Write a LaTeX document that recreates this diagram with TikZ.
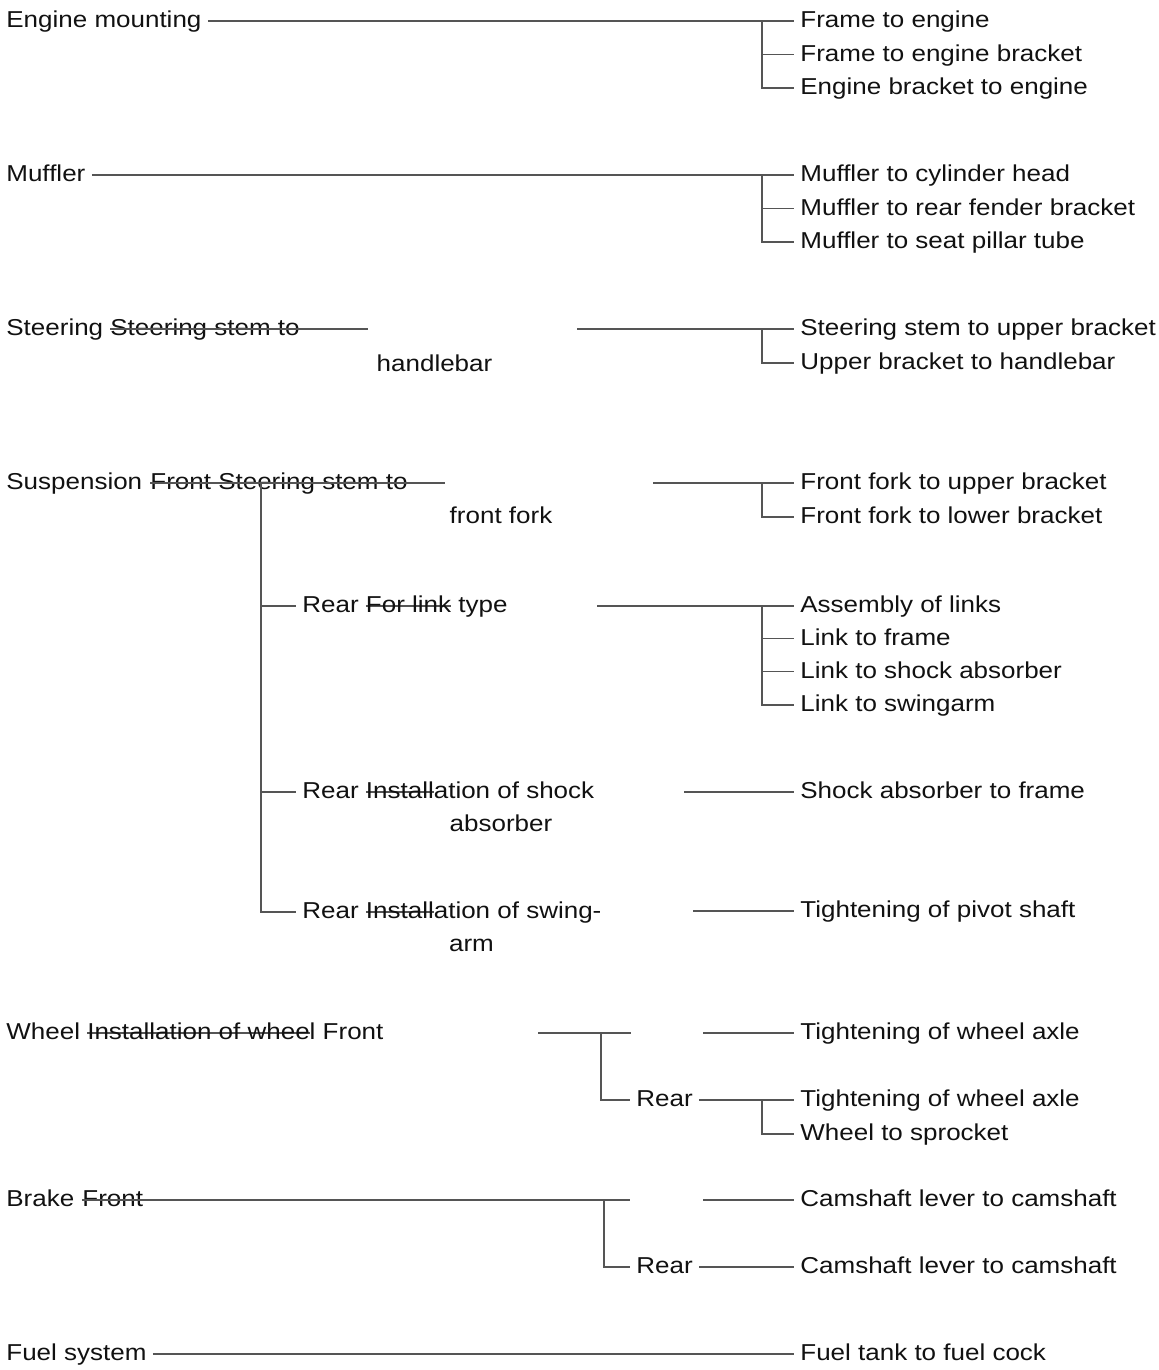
\documentclass[tikz,border=0pt]{standalone}
\usepackage{fontspec}
\setmainfont{Liberation Sans}[FakeStretch=1.13]
\usepackage{xcolor}
\usepackage{tikz}
\definecolor{lnGray}{HTML}{555555}
\definecolor{txInk}{HTML}{111111}
% struck-through text, rule at the height of the connectors
\newcommand{\strk}[1]{\setbox0\hbox{#1}\rlap{\textcolor{lnGray}{\rule[\dimexpr0.3em-0.4pt\relax]{\wd0}{0.8pt}}}\box0\relax}
\tikzset{
  part/.style={anchor=west, inner xsep=3pt, inner ysep=0pt, text height=9.5pt, text depth=2.7pt,
    font=\fontsize{11.5}{14}\selectfont, text=txInk},
  wrap/.style={part, anchor=center},
  conn/.style={draw=lnGray, line width=0.8pt},
}
\begin{document}
\begin{tikzpicture}[x=0.5pt, y=-0.5pt]
  \useasboundingbox (0,0) rectangle (1159,1370);
  % engine mounting
  \node[part] (eng) at (0,21) {Engine mounting};
  \node[part] (engA) at (794,21) {Frame to engine};
  \node[part] (engB) at (794,54.5) {Frame to engine bracket};
  \node[part] (engC) at (794,88) {Engine bracket to engine};
  \coordinate (engJ) at (762,21);
  \draw[conn] (eng.east) -- (engA.west);
  \draw[conn] (engJ) |- (engB.west);
  \draw[conn] (engJ) |- (engC.west);
  % muffler
  \node[part] (muf) at (0,175) {Muffler};
  \node[part] (mufA) at (794,175) {Muffler to cylinder head};
  \node[part] (mufB) at (794,208.5) {Muffler to rear fender bracket};
  \node[part] (mufC) at (794,242) {Muffler to seat pillar tube};
  \coordinate (mufJ) at (762,175);
  \draw[conn] (muf.east) -- (mufA.west);
  \draw[conn] (mufJ) |- (mufB.west);
  \draw[conn] (mufJ) |- (mufC.west);
  % steering
  \node[part] (ste) at (0,329) {Steering};
  \node[part] (steM) at (104,329) {Steering stem to};
  \node[wrap] (steM2) at (434.5,365) {handlebar};
  \coordinate (steE) at (368,329);
  \coordinate (steR) at (577,329);
  \coordinate (steJ) at (762,329);
  \node[part] (steA) at (794,329) {Steering stem to upper bracket};
  \node[part] (steB) at (794,363) {Upper bracket to handlebar};
  \draw[conn] (steM.text |- steE) -- (steE);
  \draw[conn] (steR) -- (steA.west);
  \draw[conn] (steJ) |- (steB.west);
  % suspension, front
  \node[part] (sus) at (0,483) {Suspension};
  \node[part] (susM) at (144,483) {Front Steering stem to};
  \node[wrap] (susM2) at (501,517) {front fork};
  \coordinate (susE) at (445,483);
  \coordinate (susV) at (261,483);
  \coordinate (susR) at (653,483);
  \coordinate (susJ) at (762,483);
  \node[part] (susA) at (794,483) {Front fork to upper bracket};
  \node[part] (susB) at (794,517) {Front fork to lower bracket};
  \draw[conn] (susM.text |- susE) -- (susE);
  \draw[conn] (susR) -- (susA.west);
  \draw[conn] (susJ) |- (susB.west);
  % suspension, rear link
  \node[part] (lnk) at (296,606) {Rear \strk{For link} type};
  \coordinate (lnkR) at (597,606);
  \coordinate (lnkJ) at (762,606);
  \node[part] (lnkA) at (794,606) {Assembly of links};
  \node[part] (lnkB) at (794,638.5) {Link to frame};
  \node[part] (lnkC) at (794,671.5) {Link to shock absorber};
  \node[part] (lnkD) at (794,705) {Link to swingarm};
  \draw[conn] (susV) |- (lnk.west);
  \draw[conn] (lnkR) -- (lnkA.west);
  \foreach \c in {lnkB,lnkC,lnkD}
    \draw[conn] (lnkJ) |- (\c.west);
  % suspension, rear shock
  \node[part] (sho) at (296,792) {Rear \strk{Install}ation of shock};
  \node[wrap] (sho2) at (501,825) {absorber};
  \coordinate (shoR) at (684,792);
  \node[part] (shoA) at (794,792) {Shock absorber to frame};
  \draw[conn] (susV) |- (sho.west);
  \draw[conn] (shoR) -- (shoA.west);
  % suspension, rear swingarm
  \node[part] (swg) at (296,912) {Rear \strk{Install}ation of swing-};
  \node[wrap] (swg2) at (471.5,945) {arm};
  \coordinate (swgR) at (693,911);
  \node[part] (swgA) at (794,911) {Tightening of pivot shaft};
  \draw[conn] (susV) |- (swg.west);
  \draw[conn] (swgR) -- (swgA.west);
  % wheel
  \node[part] (whl) at (0,1033) {Wheel \strk{Installation of whee}l Front};
  \coordinate (whlL) at (538,1033);
  \coordinate (whlJ) at (601,1033);
  \coordinate (whlE) at (631,1033);
  \coordinate (whlF) at (703,1033);
  \node[part] (whlR) at (630,1100) {Rear};
  \coordinate (whlRJ) at (762,1100);
  \node[part] (whlA) at (794,1033) {Tightening of wheel axle};
  \node[part] (whlB) at (794,1100) {Tightening of wheel axle};
  \node[part] (whlC) at (794,1134) {Wheel to sprocket};
  \draw[conn] (whlL) -- (whlE);
  \draw[conn] (whlJ) |- (whlR.west);
  \draw[conn] (whlF) -- (whlA.west);
  \draw[conn] (whlR.east) -- (whlB.west);
  \draw[conn] (whlRJ) |- (whlC.west);
  % brake
  \node[part] (brk) at (0,1200) {Brake};
  \node[part] (brkM) at (76,1200) {Front};
  \coordinate (brkJ) at (604,1200);
  \coordinate (brkE) at (630,1200);
  \coordinate (brkF) at (703,1200);
  \node[part] (brkR) at (630,1267) {Rear};
  \node[part] (brkA) at (794,1200) {Camshaft lever to camshaft};
  \node[part] (brkB) at (794,1267) {Camshaft lever to camshaft};
  \draw[conn] (brkM.text |- brkE) -- (brkE);
  \draw[conn] (brkJ) |- (brkR.west);
  \draw[conn] (brkF) -- (brkA.west);
  \draw[conn] (brkR.east) -- (brkB.west);
  % fuel system
  \node[part] (fue) at (0,1354) {Fuel system};
  \node[part] (fueA) at (794,1354) {Fuel tank to fuel cock};
  \draw[conn] (fue.east) -- (fueA.west);
\end{tikzpicture}
\end{document}
